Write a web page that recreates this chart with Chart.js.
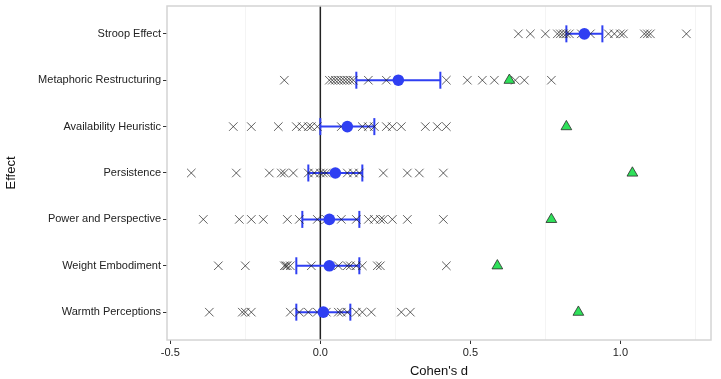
<!DOCTYPE html>
<html>
<head>
<meta charset="utf-8">
<script src="https://cdn.jsdelivr.net/npm/chart.js@4"></script>
<style>
  html, body { margin: 0; padding: 0; background: #fff; }
  #wrap { width: 721px; height: 379px; }
</style>
</head>
<body>
<div id="wrap"><canvas id="effectsChart" width="721" height="379"></canvas></div>
<script>
// effects, top to bottom
const effects = ['Stroop Effect', 'Metaphoric Restructuring', 'Availability Heuristic', 'Persistence',
    'Power and Perspective', 'Weight Embodiment', 'Warmth Perceptions'];

// individual site estimates (Cohen's d), one list per effect
const stroopSites = [0.66, 0.70, 0.75, 0.79, 0.80, 0.81, 0.82, 0.83, 0.87, 0.90, 0.96, 0.98, 1.00, 1.01, 1.08, 1.09, 1.10, 1.22];
const metaphoricSites = [-0.12, 0.03, 0.04, 0.05, 0.06, 0.07, 0.08, 0.09, 0.10, 0.11, 0.16, 0.22, 0.42, 0.49, 0.54, 0.58, 0.65, 0.68, 0.77];
const availabilitySites = [-0.29, -0.23, -0.14, -0.08, -0.06, -0.04, -0.03, -0.01, 0.07, 0.14, 0.16, 0.18, 0.22, 0.24, 0.27, 0.35, 0.39, 0.42];
const persistenceSites = [-0.43, -0.28, -0.17, -0.13, -0.12, -0.09, -0.04, -0.02, 0.00, 0.01, 0.02, 0.09, 0.11, 0.13, 0.21, 0.29, 0.33, 0.41];
const powerSites = [-0.39, -0.27, -0.23, -0.19, -0.11, -0.07, -0.01, 0.02, 0.07, 0.12, 0.16, 0.18, 0.20, 0.21, 0.24, 0.29, 0.41];
const weightSites = [-0.34, -0.25, -0.12, -0.115, -0.11, -0.10, -0.03, 0.06, 0.09, 0.10, 0.12, 0.14, 0.19, 0.20, 0.42];
const warmthSites = [-0.37, -0.26, -0.25, -0.23, -0.10, -0.07, -0.04, -0.01, 0.02, 0.06, 0.07, 0.09, 0.12, 0.14, 0.17, 0.27, 0.30];
const siteLists = [stroopSites, metaphoricSites, availabilitySites, persistenceSites, powerSites, weightSites, warmthSites];

// pooled estimate with confidence interval
const pooledD = [0.88, 0.26, 0.09, 0.05, 0.03, 0.03, 0.01];
const ciLow = [0.82, 0.12, 0.00, -0.04, -0.06, -0.08, -0.08];
const ciHigh = [0.94, 0.40, 0.18, 0.14, 0.13, 0.13, 0.10];

// original study effect size
const originalD = [null, 0.63, 0.82, 1.04, 0.77, 0.59, 0.86];

// x axis ticks
const xTickValues = [-0.5, 0.0, 0.5, 1.0];
const xTickLabels = ['-0.5', '0.0', '0.5', '1.0'];

const blue = '#2f3ff2';
const rowY = i => effects.length - i;

const crossPoints = [];
siteLists.forEach((list, i) => list.forEach(v => crossPoints.push({ x: v, y: rowY(i) })));

const datasets = [
    {
        label: 'Original',
        data: originalD.map((v, i) => v === null ? null : { x: v, y: rowY(i) }).filter(p => p),
        pointStyle: 'triangle',
        pointRadius: 6.2,
        backgroundColor: '#2fe05a',
        borderColor: '#2b2b2b',
        borderWidth: 0.8
    },
    {
        label: 'Pooled',
        data: pooledD.map((v, i) => ({ x: v, y: rowY(i) })),
        pointStyle: 'circle',
        pointRadius: 5.8,
        backgroundColor: blue,
        borderColor: blue,
        borderWidth: 0
    },
    {
        label: 'Sites',
        data: crossPoints,
        pointStyle: 'crossRot',
        pointRadius: 6,
        borderColor: 'rgba(30, 30, 30, 0.7)',
        borderWidth: 1
    }
];

effects.forEach((name, i) => {
    datasets.push({
        label: 'CI ' + name,
        data: [{ x: ciLow[i], y: rowY(i) }, { x: ciHigh[i], y: rowY(i) }],
        showLine: true,
        borderColor: blue,
        borderWidth: 2,
        pointStyle: 'line',
        pointRotation: 90,
        pointRadius: 8.5,
        pointBorderColor: blue,
        pointBorderWidth: 2
    });
});

const panelBox = {
    id: 'panelBox',
    beforeDatasetsDraw(chart) {
        const { ctx, chartArea: a, scales } = chart;
        ctx.save();
        // zero line
        const x0 = scales.x.getPixelForValue(0);
        ctx.strokeStyle = '#222';
        ctx.lineWidth = 1.5;
        ctx.beginPath();
        ctx.moveTo(x0, a.top);
        ctx.lineTo(x0, a.bottom);
        ctx.stroke();
        ctx.restore();
    },
    afterDraw(chart) {
        const { ctx, chartArea: a } = chart;
        ctx.save();
        ctx.strokeStyle = '#d4d4d4';
        ctx.lineWidth = 1.5;
        ctx.strokeRect(a.left, a.top, a.right - a.left, a.bottom - a.top);
        ctx.restore();
    }
};

const ctx = document.getElementById('effectsChart').getContext('2d');
const effectsChart = new Chart(ctx, {
    type: 'scatter',
    data: { datasets: datasets },
    plugins: [panelBox],
    options: {
        responsive: false,
        animation: false,
        events: [],
        layout: { autoPadding: false, padding: { top: 6, right: 10, left: 0, bottom: 0 } },
        plugins: {
            legend: { display: false },
            tooltip: { enabled: false }
        },
        scales: {
            x: {
                type: 'linear',
                min: -0.511,
                max: 1.302,
                afterBuildTicks: scale => {
                    scale.ticks = [-0.5, -0.25, 0, 0.25, 0.5, 0.75, 1.0, 1.25].map(v => ({ value: v }));
                },
                afterFit: scale => { scale.height = 39; scale.paddingLeft = 0; scale.paddingRight = 0; },
                ticks: {
                    autoSkip: false,
                    maxRotation: 0,
                    padding: 2,
                    color: '#222',
                    font: { family: 'Liberation Sans', size: 11 },
                    callback: v => {
                        const k = xTickValues.findIndex(t => Math.abs(t - v) < 1e-9);
                        return k >= 0 ? xTickLabels[k] : '';
                    }
                },
                grid: {
                    color: c => (Math.abs(c.tick.value * 2 - Math.round(c.tick.value * 2)) > 1e-9 ? '#f4f4f4' : 'rgba(0,0,0,0)'),
                    tickColor: c => (Math.abs(c.tick.value * 2 - Math.round(c.tick.value * 2)) > 1e-9 ? 'rgba(0,0,0,0)' : '#333'),
                    tickLength: 4,
                    lineWidth: 1
                },
                border: { display: false },
                title: {
                    display: true,
                    text: "Cohen's d",
                    color: '#111',
                    padding: { top: 0, bottom: 0 },
                    font: { family: 'Liberation Sans', size: 13 }
                }
            },
            y: {
                type: 'linear',
                min: 0.4,
                max: 7.6,
                afterBuildTicks: scale => {
                    scale.ticks = effects.map((e, i) => ({ value: rowY(i) }));
                },
                afterFit: scale => { scale.width = 167; scale.paddingTop = 0; scale.paddingBottom = 0; },
                ticks: {
                    autoSkip: false,
                    padding: 2,
                    color: '#222',
                    font: { family: 'Liberation Sans', size: 11 },
                    callback: v => effects[effects.length - Math.round(v)]
                },
                grid: {
                    drawOnChartArea: false,
                    tickColor: '#333',
                    tickLength: 4
                },
                border: { display: false },
                title: {
                    display: true,
                    text: 'Effect',
                    color: '#111',
                    padding: { top: 4, bottom: 0 },
                    font: { family: 'Liberation Sans', size: 13 }
                }
            }
        }
    }
});
</script>
</body>
</html>
